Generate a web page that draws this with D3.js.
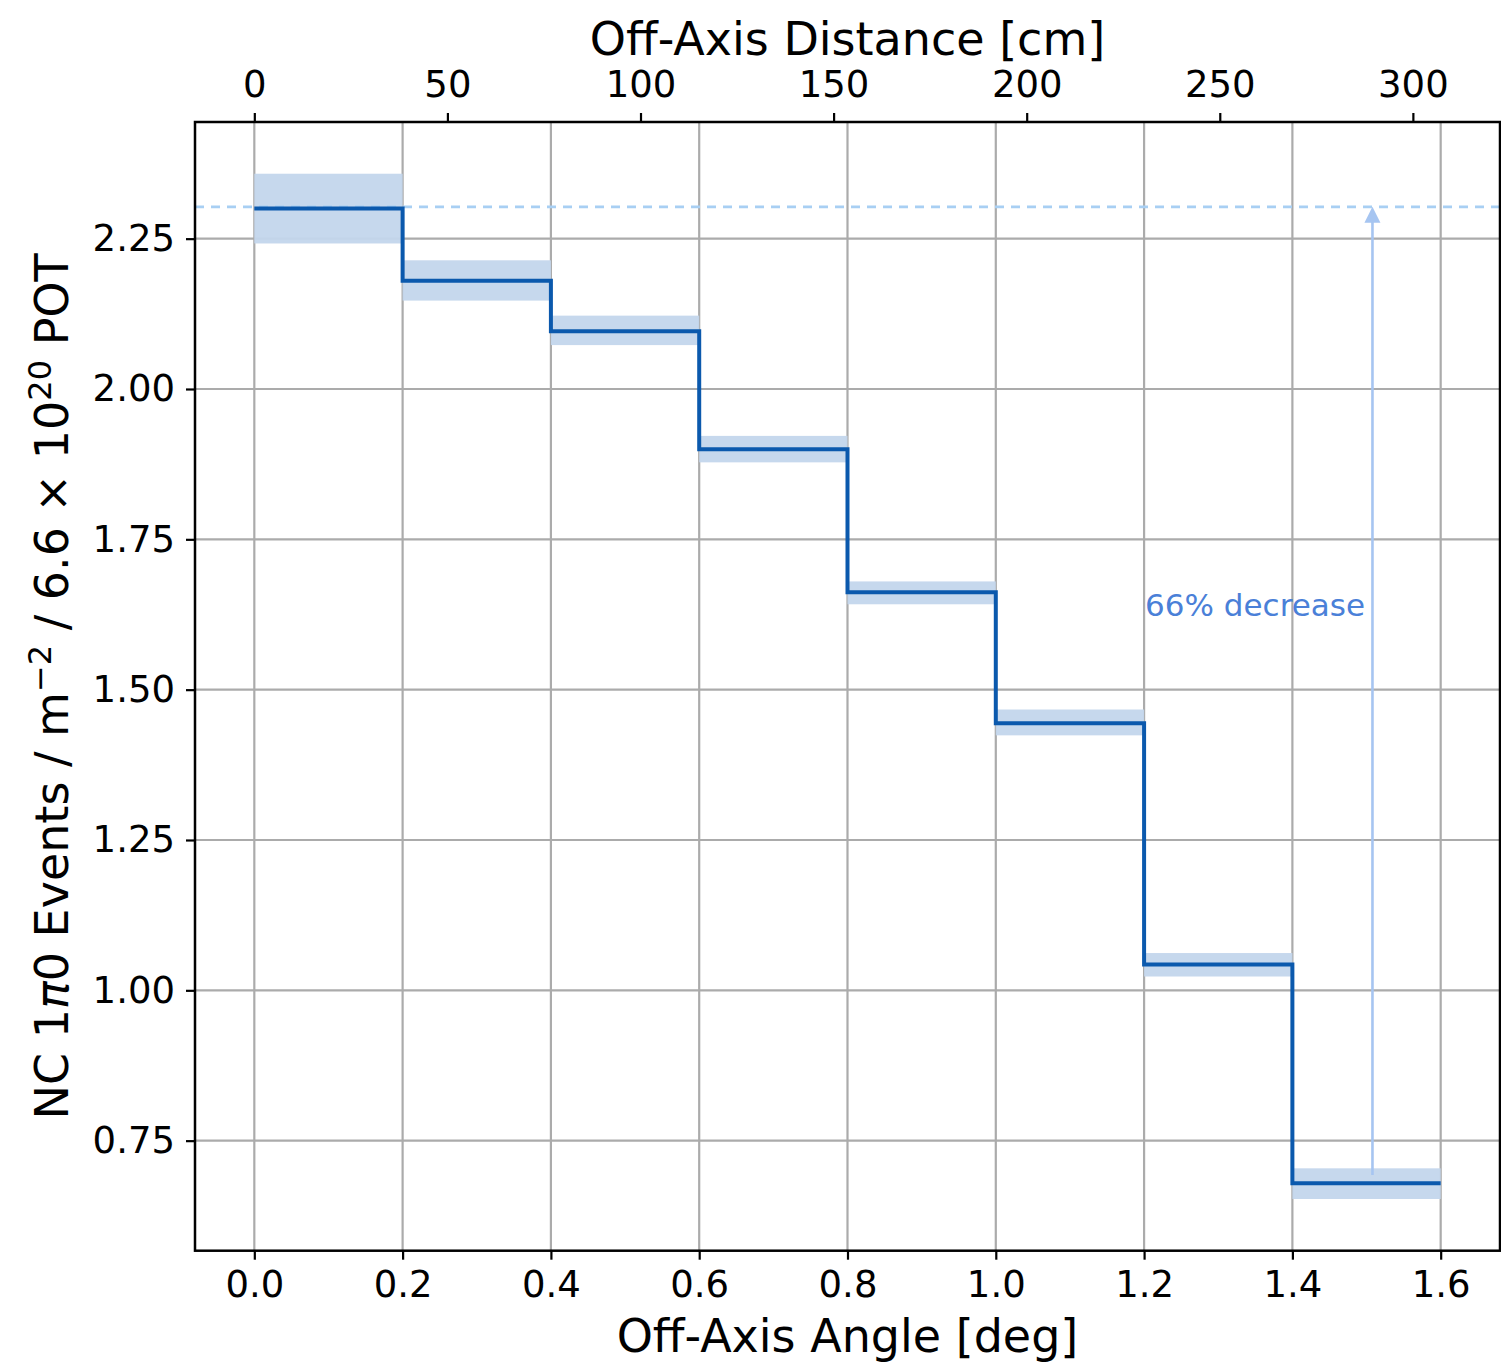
<!DOCTYPE html>
<html>
<head>
<meta charset="utf-8">
<script src="https://cdn.jsdelivr.net/npm/d3@7"></script>
<style>
  html, body { margin: 0; padding: 0; background: #ffffff; }
  svg { display: block; }
  text { font-family: "DejaVu Sans", sans-serif; fill: #000; }
</style>
</head>
<body>
<svg id="chart" width="1501" height="1362"></svg>
<script>
// Off-axis angle bin edges [deg]
const binEdges = [0.0, 0.2, 0.4, 0.6, 0.8, 1.0, 1.2, 1.4, 1.6];
// NC 1pi0 event rate per bin, with its uncertainty band
const eventRate = [2.300, 2.180, 2.096, 1.900, 1.662, 1.444, 1.043, 0.679];
const bandLow   = [2.242, 2.147, 2.073, 1.878, 1.642, 1.424, 1.023, 0.653];
const bandHigh  = [2.358, 2.214, 2.122, 1.922, 1.680, 1.467, 1.062, 0.704];

// Tick labels
const angleTicks = [0.0, 0.2, 0.4, 0.6, 0.8, 1.0, 1.2, 1.4, 1.6];
const distanceTicks = [0, 50, 100, 150, 200, 250, 300];
const rateTicks = [0.75, 1.00, 1.25, 1.50, 1.75, 2.00, 2.25];

// Annotation: on-axis reference level and the decrease arrow
const referenceLevel = 2.303;
const arrowAngle = 1.508;
const arrowBase = 0.693;
const decreaseLabel = "66% decrease";

// Off-axis distance per degree at the detector [cm/deg]
const cmPerDeg = 192;

const svg = d3.select("#chart");
const plot = { left: 195, right: 1500, top: 122, bottom: 1250.7 };

const x = d3.scaleLinear().domain([-0.08, 1.68]).range([plot.left, plot.right]);
const xTop = d3.scaleLinear().domain([-0.08 * cmPerDeg, 1.68 * cmPerDeg]).range([plot.left, plot.right]);
const y = d3.scaleLinear().domain([0.567, 2.444]).range([plot.bottom, plot.top]);

const gridColor = "#ababab";
const lineColor = "#0b59ad";
const bandColor = "#c3d6ec";

// grid
const grid = svg.append("g");
grid.selectAll("line.vx").data(angleTicks).join("line")
  .attr("x1", d => x(d)).attr("x2", d => x(d))
  .attr("y1", plot.top).attr("y2", plot.bottom)
  .attr("stroke", gridColor).attr("stroke-width", 2.2);
grid.selectAll("line.hy").data(rateTicks).join("line")
  .attr("x1", plot.left).attr("x2", plot.right)
  .attr("y1", d => y(d)).attr("y2", d => y(d))
  .attr("stroke", gridColor).attr("stroke-width", 2.2);

// uncertainty bands
const bins = eventRate.map((v, i) => ({ x0: binEdges[i], x1: binEdges[i + 1], v, lo: bandLow[i], hi: bandHigh[i] }));
svg.append("g").selectAll("rect").data(bins).join("rect")
  .attr("x", d => x(d.x0))
  .attr("width", d => x(d.x1) - x(d.x0))
  .attr("y", d => y(d.hi))
  .attr("height", d => y(d.lo) - y(d.hi))
  .attr("fill", bandColor)
  .attr("fill-opacity", 0.95);

// reference dashed line
svg.append("line")
  .attr("x1", plot.left).attr("x2", plot.right)
  .attr("y1", y(referenceLevel)).attr("y2", y(referenceLevel))
  .attr("stroke", "#a8cff3").attr("stroke-width", 2.8)
  .attr("stroke-dasharray", "9,7");

// step line
const stepPts = bins.map(d => [d.x0, d.v]).concat([[binEdges[binEdges.length - 1], eventRate[eventRate.length - 1]]]);
svg.append("path")
  .datum(stepPts)
  .attr("d", d3.line().x(d => x(d[0])).y(d => y(d[1])).curve(d3.curveStepAfter))
  .attr("fill", "none")
  .attr("stroke", lineColor)
  .attr("stroke-width", 4);

// decrease arrow
const arrowColor = "#a6c5f1";
const ax = x(arrowAngle), ay0 = y(arrowBase), ay1 = y(referenceLevel);
svg.append("line")
  .attr("x1", ax).attr("x2", ax)
  .attr("y1", ay0).attr("y2", ay1 + 14)
  .attr("stroke", arrowColor).attr("stroke-width", 2.6);
svg.append("path")
  .attr("d", `M${ax},${ay1} L${ax - 8},${ay1 + 16} L${ax + 8},${ay1 + 16} Z`)
  .attr("fill", arrowColor);
svg.append("text")
  .attr("x", 1365).attr("y", 616)
  .attr("text-anchor", "end")
  .style("font-size", "31px")
  .style("fill", "#4a80d8")
  .text(decreaseLabel);

// frame
svg.append("rect")
  .attr("x", plot.left).attr("y", plot.top)
  .attr("width", plot.right - plot.left).attr("height", plot.bottom - plot.top)
  .attr("fill", "none").attr("stroke", "#000").attr("stroke-width", 2.5);

// axes
const tickStyle = g => {
  g.select(".domain").remove();
  g.selectAll(".tick line").attr("stroke", "#000").attr("stroke-width", 2.2);
  g.selectAll(".tick text").style("font-family", "DejaVu Sans, sans-serif").style("font-size", "37px").attr("fill", "#000");
};

svg.append("g")
  .attr("transform", `translate(0,${plot.bottom})`)
  .call(d3.axisBottom(x).tickValues(angleTicks).tickFormat(d3.format(".1f")).tickSize(9).tickPadding(11))
  .call(tickStyle);

svg.append("g")
  .attr("transform", `translate(0,${plot.top})`)
  .call(d3.axisTop(xTop).tickValues(distanceTicks).tickFormat(d3.format("d")).tickSize(9).tickPadding(16))
  .call(tickStyle);

svg.append("g")
  .attr("transform", `translate(${plot.left},0)`)
  .call(d3.axisLeft(y).tickValues(rateTicks).tickFormat(d3.format(".2f")).tickSize(9).tickPadding(11))
  .call(tickStyle);

// axis titles
const cx = (plot.left + plot.right) / 2;
svg.append("text")
  .attr("x", cx).attr("y", 1352)
  .attr("text-anchor", "middle")
  .style("font-size", "46px")
  .text("Off-Axis Angle [deg]");

svg.append("text")
  .attr("x", cx).attr("y", 55)
  .attr("text-anchor", "middle")
  .style("font-size", "46px")
  .text("Off-Axis Distance [cm]");

const cy = (plot.top + plot.bottom) / 2;
const yl = svg.append("text")
  .attr("transform", `translate(68,${cy}) rotate(-90)`)
  .attr("text-anchor", "middle")
  .style("font-size", "46px");
yl.append("tspan").text("NC 1");
yl.append("tspan").style("font-style", "italic").text("π");
yl.append("tspan").text("0 Events / m");
yl.append("tspan").attr("dy", -17).style("font-size", "32px").text("−2");
yl.append("tspan").attr("dy", 17).text(" / 6.6 × 10");
yl.append("tspan").attr("dy", -17).style("font-size", "32px").text("20");
yl.append("tspan").attr("dy", 17).text(" POT");
</script>
</body>
</html>
